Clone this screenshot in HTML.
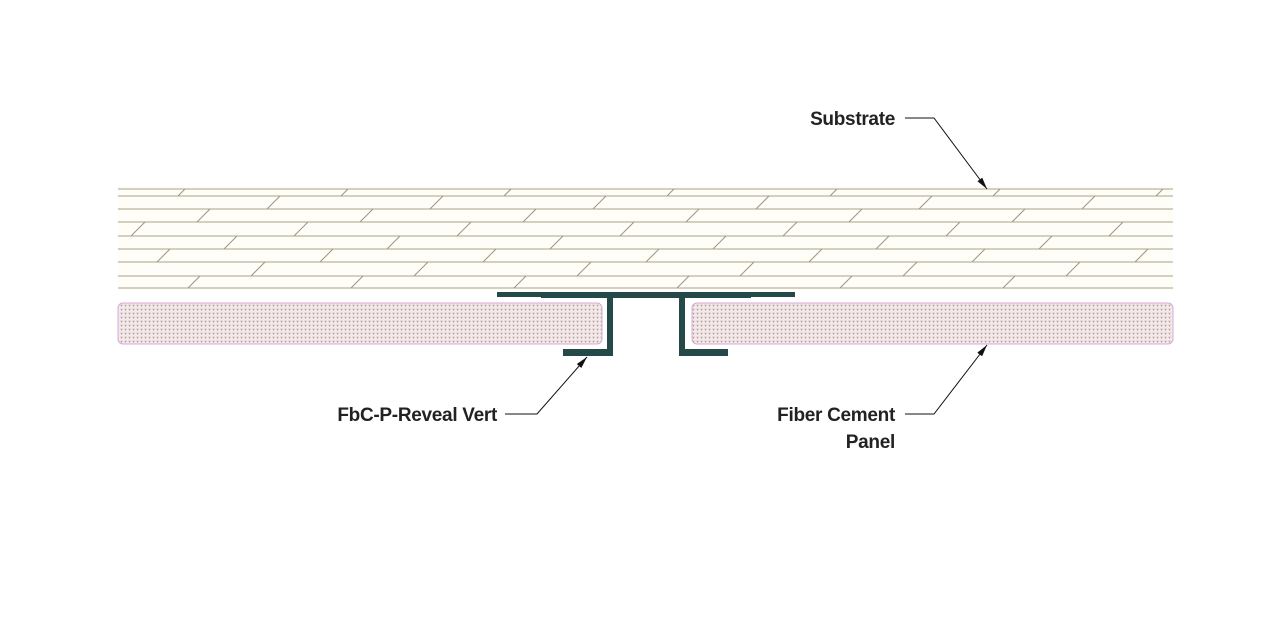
<!DOCTYPE html>
<html><head><meta charset="utf-8"><style>
html,body{margin:0;padding:0;background:#fff;width:1275px;height:640px;overflow:hidden}
text{font-family:"Liberation Sans",Arial,sans-serif;font-weight:bold;font-size:19px;fill:#222;letter-spacing:-0.3px}
</style></head><body>
<svg id="s" width="1275" height="640" viewBox="0 0 1275 640" xmlns="http://www.w3.org/2000/svg">
<defs>
<pattern id="dots" width="4" height="4" patternUnits="userSpaceOnUse">
<rect width="4" height="4" fill="#f3e9e9"/>
<path d="M0.3 0.8 L2.8 0.8 L1.5 3 Z" fill="#b8a4a4"/>
</pattern>
<marker id="ah" markerWidth="12" markerHeight="6" refX="12" refY="3" orient="auto" markerUnits="userSpaceOnUse">
<path d="M0 0 L12 3 L0 6 Z" fill="#111"/>
</marker>
</defs>
<rect x="118" y="186" width="1055" height="104" fill="#fffdf7"/>
<g id="lines" stroke="#a8a48a" stroke-width="1"></g>
<g id="ticks" stroke="#999680" stroke-width="1"></g>
<rect x="118" y="303" width="484" height="41" rx="5" fill="url(#dots)" stroke="#d8a8d8" stroke-width="1"/>
<rect x="692" y="303" width="481" height="41" rx="5" fill="url(#dots)" stroke="#d8a8d8" stroke-width="1"/>
<g fill="#254848">
<rect x="497" y="292" width="298" height="5"/>
<rect x="541" y="296" width="210" height="2"/>
<rect x="607" y="292" width="6" height="64"/>
<rect x="563" y="349" width="50" height="7"/>
<rect x="679" y="292" width="6" height="64"/>
<rect x="679" y="349" width="49" height="7"/>
</g>
<g stroke="#111" stroke-width="1" fill="none">
<polyline points="905,118 934,118 987,189" marker-end="url(#ah)"/>
<polyline points="505,414 537,414 587,357" marker-end="url(#ah)"/>
<polyline points="905,414 934,414 987,345" marker-end="url(#ah)"/>
</g>
<text x="895" y="125" text-anchor="end">Substrate</text>
<text x="497" y="421" text-anchor="end">FbC-P-Reveal Vert</text>
<text x="895" y="421" text-anchor="end">Fiber Cement</text>
<text x="895" y="448" text-anchor="end">Panel</text>
</svg>
<script>
var ns="http://www.w3.org/2000/svg";
var ys=[189,196,209,222,236,249,262,276,288];
var L=document.getElementById("lines"),T=document.getElementById("ticks");
ys.forEach(function(y){var l=document.createElementNS(ns,"line");l.setAttribute("x1",118);l.setAttribute("x2",1173);l.setAttribute("y1",y);l.setAttribute("y2",y);L.appendChild(l);});
var offs=[185,117,210,145,237,170,265,200];
for(var r=0;r<8;r++){var y1=ys[r],y2=ys[r+1];for(var x=offs[r]-163*2;x<1180;x+=163){var dx=(y2-y1);if(x-dx<118||x>1173)continue;var l=document.createElementNS(ns,"line");l.setAttribute("x1",x);l.setAttribute("y1",y1);l.setAttribute("x2",x-dx);l.setAttribute("y2",y2);T.appendChild(l);}}
</script>
</body></html>
